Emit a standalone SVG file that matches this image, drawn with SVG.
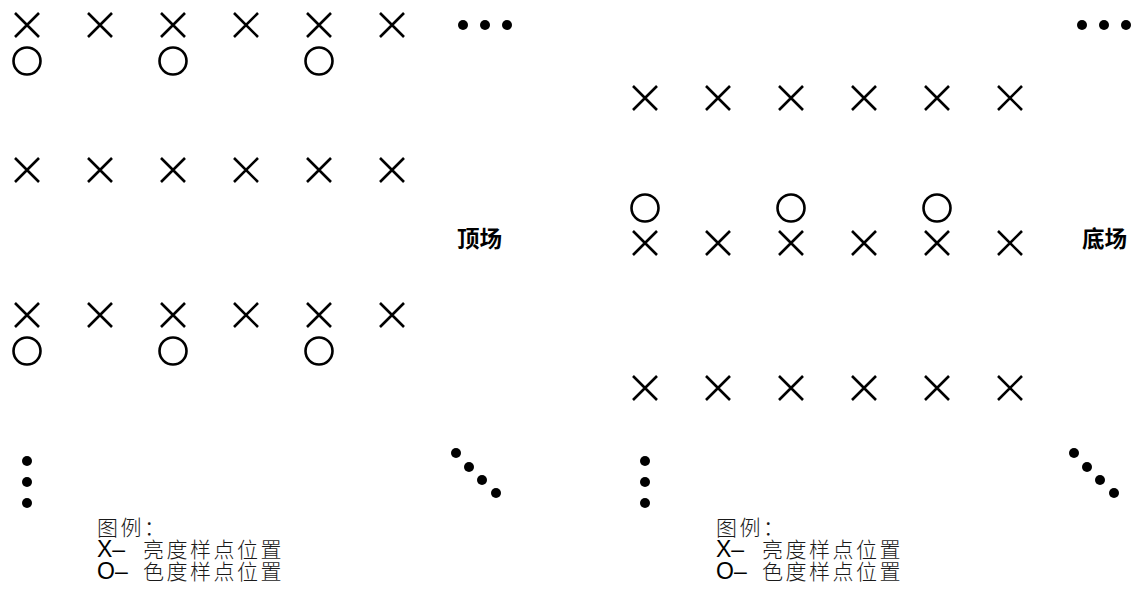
<svg xmlns="http://www.w3.org/2000/svg" xmlns:xlink="http://www.w3.org/1999/xlink" width="1137" height="598" viewBox="0 0 1137 598">
<style>
.s{fill:none;stroke:#000;stroke-width:2.6;stroke-linecap:butt}
.d{fill:#000}
.lbl{font-family:"Noto Sans CJK SC",sans-serif;font-weight:bold;font-size:22.5px;fill:#000}
.leg{font-family:"Liberation Sans","Noto Sans CJK SC",sans-serif;font-size:21px;fill:#1a1a1a}
.sym{font-size:23px;fill:#000}
.cjk{font-family:"Noto Sans CJK SC",sans-serif;font-weight:300;letter-spacing:2.5px}
</style>
<defs>
<path id="x" class="s" d="M-12,-12L12,12M12,-12L-12,12"/>
<circle id="o" class="s" r="13.5"/>
</defs>
<rect width="1137" height="598" fill="#fff"/>
<g id="top-field">
<g id="top-row1">
<use xlink:href="#x" x="27" y="25"/><use xlink:href="#x" x="100" y="25"/><use xlink:href="#x" x="173" y="25"/><use xlink:href="#x" x="246" y="25"/><use xlink:href="#x" x="319" y="25"/><use xlink:href="#x" x="392" y="25"/>
<use xlink:href="#o" x="27" y="61"/><use xlink:href="#o" x="173" y="61"/><use xlink:href="#o" x="319" y="61"/>
</g>
<g id="top-row2">
<use xlink:href="#x" x="27" y="170"/><use xlink:href="#x" x="100" y="170"/><use xlink:href="#x" x="173" y="170"/><use xlink:href="#x" x="246" y="170"/><use xlink:href="#x" x="319" y="170"/><use xlink:href="#x" x="392" y="170"/>
</g>
<g id="top-row3">
<use xlink:href="#x" x="27" y="315"/><use xlink:href="#x" x="100" y="315"/><use xlink:href="#x" x="173" y="315"/><use xlink:href="#x" x="246" y="315"/><use xlink:href="#x" x="319" y="315"/><use xlink:href="#x" x="392" y="315"/>
<use xlink:href="#o" x="27" y="351"/><use xlink:href="#o" x="173" y="351"/><use xlink:href="#o" x="319" y="351"/>
</g>
<g id="top-dots">
<circle class="d" cx="463" cy="25" r="5"/><circle class="d" cx="485" cy="25" r="5"/><circle class="d" cx="507" cy="25" r="5"/>
<circle class="d" cx="27" cy="461" r="5"/><circle class="d" cx="27" cy="482" r="5"/><circle class="d" cx="27" cy="503" r="5"/>
<circle class="d" cx="456" cy="453" r="5"/><circle class="d" cx="469" cy="467" r="5"/><circle class="d" cx="482" cy="480" r="5"/><circle class="d" cx="496" cy="493" r="5"/>
</g>
<text class="lbl" x="457" y="247">顶场</text>
<g id="top-legend" class="leg">
<text x="97" y="535" class="cjk">图例：</text>
<text x="97" y="557"><tspan class="sym">X–</tspan><tspan class="cjk" x="143">亮度样点位置</tspan></text>
<text x="97" y="579"><tspan class="sym">O–</tspan><tspan class="cjk" x="143">色度样点位置</tspan></text>
</g>
</g>
<g id="bottom-field">
<g id="bot-row1">
<use xlink:href="#x" x="645" y="98"/><use xlink:href="#x" x="718" y="98"/><use xlink:href="#x" x="791" y="98"/><use xlink:href="#x" x="864" y="98"/><use xlink:href="#x" x="937" y="98"/><use xlink:href="#x" x="1010" y="98"/>
</g>
<g id="bot-row2">
<use xlink:href="#o" x="645" y="208"/><use xlink:href="#o" x="791" y="208"/><use xlink:href="#o" x="937" y="208"/>
<use xlink:href="#x" x="645" y="243"/><use xlink:href="#x" x="718" y="243"/><use xlink:href="#x" x="791" y="243"/><use xlink:href="#x" x="864" y="243"/><use xlink:href="#x" x="937" y="243"/><use xlink:href="#x" x="1010" y="243"/>
</g>
<g id="bot-row3">
<use xlink:href="#x" x="645" y="388"/><use xlink:href="#x" x="718" y="388"/><use xlink:href="#x" x="791" y="388"/><use xlink:href="#x" x="864" y="388"/><use xlink:href="#x" x="937" y="388"/><use xlink:href="#x" x="1010" y="388"/>
</g>
<g id="bot-dots">
<circle class="d" cx="1082" cy="25" r="5"/><circle class="d" cx="1104" cy="25" r="5"/><circle class="d" cx="1126" cy="25" r="5"/>
<circle class="d" cx="645" cy="461" r="5"/><circle class="d" cx="645" cy="482" r="5"/><circle class="d" cx="645" cy="503" r="5"/>
<circle class="d" cx="1074" cy="453" r="5"/><circle class="d" cx="1087" cy="467" r="5"/><circle class="d" cx="1100" cy="480" r="5"/><circle class="d" cx="1114" cy="493" r="5"/>
</g>
<text class="lbl" x="1082" y="247">底场</text>
<g id="bot-legend" class="leg">
<text x="716" y="535" class="cjk">图例：</text>
<text x="716" y="557"><tspan class="sym">X–</tspan><tspan class="cjk" x="762">亮度样点位置</tspan></text>
<text x="716" y="579"><tspan class="sym">O–</tspan><tspan class="cjk" x="762">色度样点位置</tspan></text>
</g>
</g>
</svg>
